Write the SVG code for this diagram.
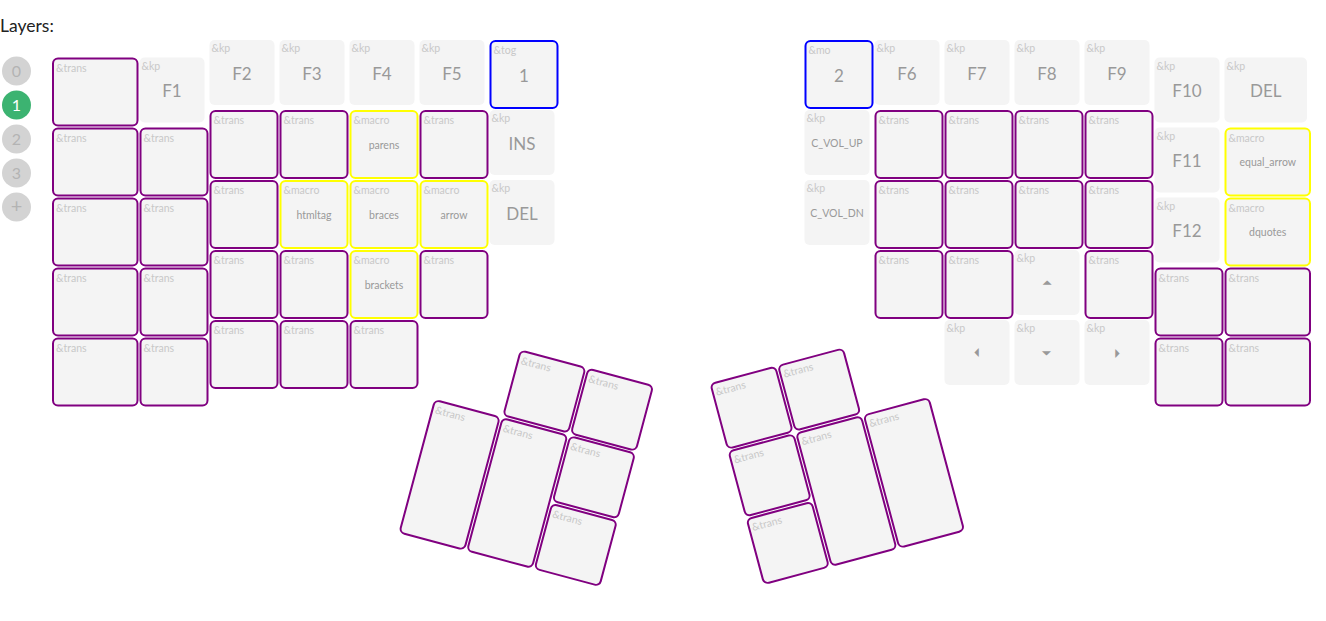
<svg xmlns="http://www.w3.org/2000/svg" width="1326" height="621" viewBox="0 0 1326 621">
<style>
text{font-family:"Lato","Open Sans",sans-serif}
.k{fill:#f4f4f4}
.kb{fill:#f4f4f4;stroke-width:2}
.tr{stroke:#800080}
.mc{stroke:#ffff00}
.bl{stroke:#0000ff}
.b{font-size:10.5px;fill:#c8c8c8}
.m{font-size:17px;fill:#999;text-anchor:middle}
.s{font-size:10.5px;fill:#999;text-anchor:middle}
.t{font-size:12px;fill:#999;text-anchor:middle}
.lc{fill:#d3d3d3}
.la{fill:#3cb371}
.ln{font-size:16px;fill:#b3b3b3;text-anchor:middle}
</style>
<rect width="1326" height="621" fill="#fff"/>
<text x="0" y="32" style="font-size:17.5px;fill:#222">Layers:</text>
<g id="layers">
<circle class="lc" cx="16.5" cy="71" r="14.5"/><text class="ln" x="16.5" y="77">0</text>
<circle class="la" cx="16.5" cy="105" r="14.5"/><text class="ln" x="16.5" y="111" style="fill:#fff">1</text>
<circle class="lc" cx="16.5" cy="139" r="14.5"/><text class="ln" x="16.5" y="145">2</text>
<circle class="lc" cx="16.5" cy="173" r="14.5"/><text class="ln" x="16.5" y="179">3</text>
<circle class="lc" cx="16.5" cy="207" r="14.5"/><text class="ln" x="16.5" y="213" style="font-size:20px">+</text>
</g>
<g id="left-hand">
<!-- col 0 -->
<g id="l0r0"><rect class="kb tr" x="53" y="58.5" width="84.5" height="67" rx="5"/><text class="b" x="56" y="71.5">&amp;trans</text></g>
<g id="l0r1"><rect class="kb tr" x="53" y="128.5" width="84.5" height="67" rx="5"/><text class="b" x="56" y="141.5">&amp;trans</text></g>
<g id="l0r2"><rect class="kb tr" x="53" y="198.5" width="84.5" height="67" rx="5"/><text class="b" x="56" y="211.5">&amp;trans</text></g>
<g id="l0r3"><rect class="kb tr" x="53" y="268.5" width="84.5" height="67" rx="5"/><text class="b" x="56" y="281.5">&amp;trans</text></g>
<g id="l0r4"><rect class="kb tr" x="53" y="338.5" width="84.5" height="67" rx="5"/><text class="b" x="56" y="351.5">&amp;trans</text></g>
<!-- col 1 -->
<g id="l1r0"><rect class="k" x="139.5" y="57.5" width="65" height="65" rx="5"/><text class="b" x="141.5" y="69.5">&amp;kp</text><text class="m" x="172" y="97">F1</text></g>
<g id="l1r1"><rect class="kb tr" x="140.5" y="128.5" width="67" height="67" rx="5"/><text class="b" x="143.5" y="141.5">&amp;trans</text></g>
<g id="l1r2"><rect class="kb tr" x="140.5" y="198.5" width="67" height="67" rx="5"/><text class="b" x="143.5" y="211.5">&amp;trans</text></g>
<g id="l1r3"><rect class="kb tr" x="140.5" y="268.5" width="67" height="67" rx="5"/><text class="b" x="143.5" y="281.5">&amp;trans</text></g>
<g id="l1r4"><rect class="kb tr" x="140.5" y="338.5" width="67" height="67" rx="5"/><text class="b" x="143.5" y="351.5">&amp;trans</text></g>
<!-- col 2 -->
<g id="l2r0"><rect class="k" x="209.5" y="40" width="65" height="65" rx="5"/><text class="b" x="211.5" y="52">&amp;kp</text><text class="m" x="242" y="79.5">F2</text></g>
<g id="l2r1"><rect class="kb tr" x="210.5" y="111" width="67" height="67" rx="5"/><text class="b" x="213.5" y="124">&amp;trans</text></g>
<g id="l2r2"><rect class="kb tr" x="210.5" y="181" width="67" height="67" rx="5"/><text class="b" x="213.5" y="194">&amp;trans</text></g>
<g id="l2r3"><rect class="kb tr" x="210.5" y="251" width="67" height="67" rx="5"/><text class="b" x="213.5" y="264">&amp;trans</text></g>
<g id="l2r4"><rect class="kb tr" x="210.5" y="321" width="67" height="67" rx="5"/><text class="b" x="213.5" y="334">&amp;trans</text></g>
<!-- col 3 -->
<g id="l3r0"><rect class="k" x="279.5" y="40" width="65" height="65" rx="5"/><text class="b" x="281.5" y="52">&amp;kp</text><text class="m" x="312" y="79.5">F3</text></g>
<g id="l3r1"><rect class="kb tr" x="280.5" y="111" width="67" height="67" rx="5"/><text class="b" x="283.5" y="124">&amp;trans</text></g>
<g id="l3r2"><rect class="kb mc" x="280.5" y="181" width="67" height="67" rx="5"/><text class="b" x="283.5" y="194">&amp;macro</text><text class="s" x="314" y="218.5">htmltag</text></g>
<g id="l3r3"><rect class="kb tr" x="280.5" y="251" width="67" height="67" rx="5"/><text class="b" x="283.5" y="264">&amp;trans</text></g>
<g id="l3r4"><rect class="kb tr" x="280.5" y="321" width="67" height="67" rx="5"/><text class="b" x="283.5" y="334">&amp;trans</text></g>
<!-- col 4 -->
<g id="l4r0"><rect class="k" x="349.5" y="40" width="65" height="65" rx="5"/><text class="b" x="351.5" y="52">&amp;kp</text><text class="m" x="382" y="79.5">F4</text></g>
<g id="l4r1"><rect class="kb mc" x="350.5" y="111" width="67" height="67" rx="5"/><text class="b" x="353.5" y="124">&amp;macro</text><text class="s" x="384" y="148.5">parens</text></g>
<g id="l4r2"><rect class="kb mc" x="350.5" y="181" width="67" height="67" rx="5"/><text class="b" x="353.5" y="194">&amp;macro</text><text class="s" x="384" y="218.5">braces</text></g>
<g id="l4r3"><rect class="kb mc" x="350.5" y="251" width="67" height="67" rx="5"/><text class="b" x="353.5" y="264">&amp;macro</text><text class="s" x="384" y="288.5">brackets</text></g>
<g id="l4r4"><rect class="kb tr" x="350.5" y="321" width="67" height="67" rx="5"/><text class="b" x="353.5" y="334">&amp;trans</text></g>
<!-- col 5 -->
<g id="l5r0"><rect class="k" x="419.5" y="40" width="65" height="65" rx="5"/><text class="b" x="421.5" y="52">&amp;kp</text><text class="m" x="452" y="79.5">F5</text></g>
<g id="l5r1"><rect class="kb tr" x="420.5" y="111" width="67" height="67" rx="5"/><text class="b" x="423.5" y="124">&amp;trans</text></g>
<g id="l5r2"><rect class="kb mc" x="420.5" y="181" width="67" height="67" rx="5"/><text class="b" x="423.5" y="194">&amp;macro</text><text class="s" x="454" y="218.5">arrow</text></g>
<g id="l5r3"><rect class="kb tr" x="420.5" y="251" width="67" height="67" rx="5"/><text class="b" x="423.5" y="264">&amp;trans</text></g>
<!-- col 6 -->
<g id="l6r0"><rect class="kb bl" x="490.5" y="41" width="67" height="67" rx="5"/><text class="b" x="493.5" y="54">&amp;tog</text><text class="m" x="524" y="81.5">1</text></g>
<g id="l6r1"><rect class="k" x="489.5" y="110" width="65" height="65" rx="5"/><text class="b" x="491.5" y="122">&amp;kp</text><text class="m" x="522" y="149.5">INS</text></g>
<g id="l6r2"><rect class="k" x="489.5" y="180" width="65" height="65" rx="5"/><text class="b" x="491.5" y="192">&amp;kp</text><text class="m" x="522" y="219.5">DEL</text></g>
</g>
<g id="left-thumb" transform="translate(452.4,331.2) rotate(15)">
<g id="lt-a"><rect class="kb tr" x="71" y="1" width="67" height="67" rx="5"/><text class="b" x="74" y="14">&amp;trans</text></g>
<g id="lt-b"><rect class="kb tr" x="141" y="1" width="67" height="67" rx="5"/><text class="b" x="144" y="14">&amp;trans</text></g>
<g id="lt-e"><rect class="kb tr" x="1" y="71" width="67" height="137" rx="5"/><text class="b" x="4" y="84">&amp;trans</text></g>
<g id="lt-f"><rect class="kb tr" x="71" y="71" width="67" height="137" rx="5"/><text class="b" x="74" y="84">&amp;trans</text></g>
<g id="lt-c"><rect class="kb tr" x="141" y="71" width="67" height="67" rx="5"/><text class="b" x="144" y="84">&amp;trans</text></g>
<g id="lt-d"><rect class="kb tr" x="141" y="141" width="67" height="67" rx="5"/><text class="b" x="144" y="154">&amp;trans</text></g>
</g>
<g id="right-hand">
<!-- col 0 -->
<g id="r0r0"><rect class="kb bl" x="805.5" y="41" width="67" height="67" rx="5"/><text class="b" x="808.5" y="54">&amp;mo</text><text class="m" x="839" y="81.5">2</text></g>
<g id="r0r1"><rect class="k" x="804.5" y="110" width="65" height="65" rx="5"/><text class="b" x="806.5" y="122">&amp;kp</text><text class="s" x="837" y="146.5">C_VOL_UP</text></g>
<g id="r0r2"><rect class="k" x="804.5" y="180" width="65" height="65" rx="5"/><text class="b" x="806.5" y="192">&amp;kp</text><text class="s" x="837" y="216.5">C_VOL_DN</text></g>
<!-- col 1 -->
<g id="r1r0"><rect class="k" x="874.5" y="40" width="65" height="65" rx="5"/><text class="b" x="876.5" y="52">&amp;kp</text><text class="m" x="907" y="79.5">F6</text></g>
<g id="r1r1"><rect class="kb tr" x="875.5" y="111" width="67" height="67" rx="5"/><text class="b" x="878.5" y="124">&amp;trans</text></g>
<g id="r1r2"><rect class="kb tr" x="875.5" y="181" width="67" height="67" rx="5"/><text class="b" x="878.5" y="194">&amp;trans</text></g>
<g id="r1r3"><rect class="kb tr" x="875.5" y="251" width="67" height="67" rx="5"/><text class="b" x="878.5" y="264">&amp;trans</text></g>
<!-- col 2 -->
<g id="r2r0"><rect class="k" x="944.5" y="40" width="65" height="65" rx="5"/><text class="b" x="946.5" y="52">&amp;kp</text><text class="m" x="977" y="79.5">F7</text></g>
<g id="r2r1"><rect class="kb tr" x="945.5" y="111" width="67" height="67" rx="5"/><text class="b" x="948.5" y="124">&amp;trans</text></g>
<g id="r2r2"><rect class="kb tr" x="945.5" y="181" width="67" height="67" rx="5"/><text class="b" x="948.5" y="194">&amp;trans</text></g>
<g id="r2r3"><rect class="kb tr" x="945.5" y="251" width="67" height="67" rx="5"/><text class="b" x="948.5" y="264">&amp;trans</text></g>
<g id="r2r4"><rect class="k" x="944.5" y="320" width="65" height="65" rx="5"/><text class="b" x="946.5" y="332">&amp;kp</text><text class="t" x="977" y="357">&#x23F4;</text></g>
<!-- col 3 -->
<g id="r3r0"><rect class="k" x="1014.5" y="40" width="65" height="65" rx="5"/><text class="b" x="1016.5" y="52">&amp;kp</text><text class="m" x="1047" y="79.5">F8</text></g>
<g id="r3r1"><rect class="kb tr" x="1015.5" y="111" width="67" height="67" rx="5"/><text class="b" x="1018.5" y="124">&amp;trans</text></g>
<g id="r3r2"><rect class="kb tr" x="1015.5" y="181" width="67" height="67" rx="5"/><text class="b" x="1018.5" y="194">&amp;trans</text></g>
<g id="r3r3"><rect class="k" x="1014.5" y="250" width="65" height="65" rx="5"/><text class="b" x="1016.5" y="262">&amp;kp</text><text class="t" x="1047" y="287">&#x23F6;</text></g>
<g id="r3r4"><rect class="k" x="1014.5" y="320" width="65" height="65" rx="5"/><text class="b" x="1016.5" y="332">&amp;kp</text><text class="t" x="1047" y="357">&#x23F7;</text></g>
<!-- col 4 -->
<g id="r4r0"><rect class="k" x="1084.5" y="40" width="65" height="65" rx="5"/><text class="b" x="1086.5" y="52">&amp;kp</text><text class="m" x="1117" y="79.5">F9</text></g>
<g id="r4r1"><rect class="kb tr" x="1085.5" y="111" width="67" height="67" rx="5"/><text class="b" x="1088.5" y="124">&amp;trans</text></g>
<g id="r4r2"><rect class="kb tr" x="1085.5" y="181" width="67" height="67" rx="5"/><text class="b" x="1088.5" y="194">&amp;trans</text></g>
<g id="r4r3"><rect class="kb tr" x="1085.5" y="251" width="67" height="67" rx="5"/><text class="b" x="1088.5" y="264">&amp;trans</text></g>
<g id="r4r4"><rect class="k" x="1084.5" y="320" width="65" height="65" rx="5"/><text class="b" x="1086.5" y="332">&amp;kp</text><text class="t" x="1117" y="357">&#x23F5;</text></g>
<!-- col 5 -->
<g id="r5r0"><rect class="k" x="1154.5" y="57.5" width="65" height="65" rx="5"/><text class="b" x="1156.5" y="69.5">&amp;kp</text><text class="m" x="1187" y="97">F10</text></g>
<g id="r5r1"><rect class="k" x="1154.5" y="127.5" width="65" height="65" rx="5"/><text class="b" x="1156.5" y="139.5">&amp;kp</text><text class="m" x="1187" y="167">F11</text></g>
<g id="r5r2"><rect class="k" x="1154.5" y="197.5" width="65" height="65" rx="5"/><text class="b" x="1156.5" y="209.5">&amp;kp</text><text class="m" x="1187" y="237">F12</text></g>
<g id="r5r3"><rect class="kb tr" x="1155.5" y="268.5" width="67" height="67" rx="5"/><text class="b" x="1158.5" y="281.5">&amp;trans</text></g>
<g id="r5r4"><rect class="kb tr" x="1155.5" y="338.5" width="67" height="67" rx="5"/><text class="b" x="1158.5" y="351.5">&amp;trans</text></g>
<!-- col 6 -->
<g id="r6r0"><rect class="k" x="1224.5" y="57.5" width="82.5" height="65" rx="5"/><text class="b" x="1226.5" y="69.5">&amp;kp</text><text class="m" x="1265.75" y="97">DEL</text></g>
<g id="r6r1"><rect class="kb mc" x="1225.5" y="128.5" width="84.5" height="67" rx="5"/><text class="b" x="1228.5" y="141.5">&amp;macro</text><text class="s" x="1267.75" y="166">equal_arrow</text></g>
<g id="r6r2"><rect class="kb mc" x="1225.5" y="198.5" width="84.5" height="67" rx="5"/><text class="b" x="1228.5" y="211.5">&amp;macro</text><text class="s" x="1267.75" y="236">dquotes</text></g>
<g id="r6r3"><rect class="kb tr" x="1225.5" y="268.5" width="84.5" height="67" rx="5"/><text class="b" x="1228.5" y="281.5">&amp;trans</text></g>
<g id="r6r4"><rect class="kb tr" x="1225.5" y="338.5" width="84.5" height="67" rx="5"/><text class="b" x="1228.5" y="351.5">&amp;trans</text></g>
</g>
<g id="right-thumb" transform="translate(709.3,383.3) rotate(-15)">
<g id="rt-g"><rect class="kb tr" x="1" y="1" width="67" height="67" rx="5"/><text class="b" x="4" y="14">&amp;trans</text></g>
<g id="rt-h"><rect class="kb tr" x="71" y="1" width="67" height="67" rx="5"/><text class="b" x="74" y="14">&amp;trans</text></g>
<g id="rt-i"><rect class="kb tr" x="1" y="71" width="67" height="67" rx="5"/><text class="b" x="4" y="84">&amp;trans</text></g>
<g id="rt-j"><rect class="kb tr" x="1" y="141" width="67" height="67" rx="5"/><text class="b" x="4" y="154">&amp;trans</text></g>
<g id="rt-k"><rect class="kb tr" x="71" y="71" width="67" height="137" rx="5"/><text class="b" x="74" y="84">&amp;trans</text></g>
<g id="rt-l"><rect class="kb tr" x="141" y="71" width="67" height="137" rx="5"/><text class="b" x="144" y="84">&amp;trans</text></g>
</g>
<g id="connectors"/>
</svg>
